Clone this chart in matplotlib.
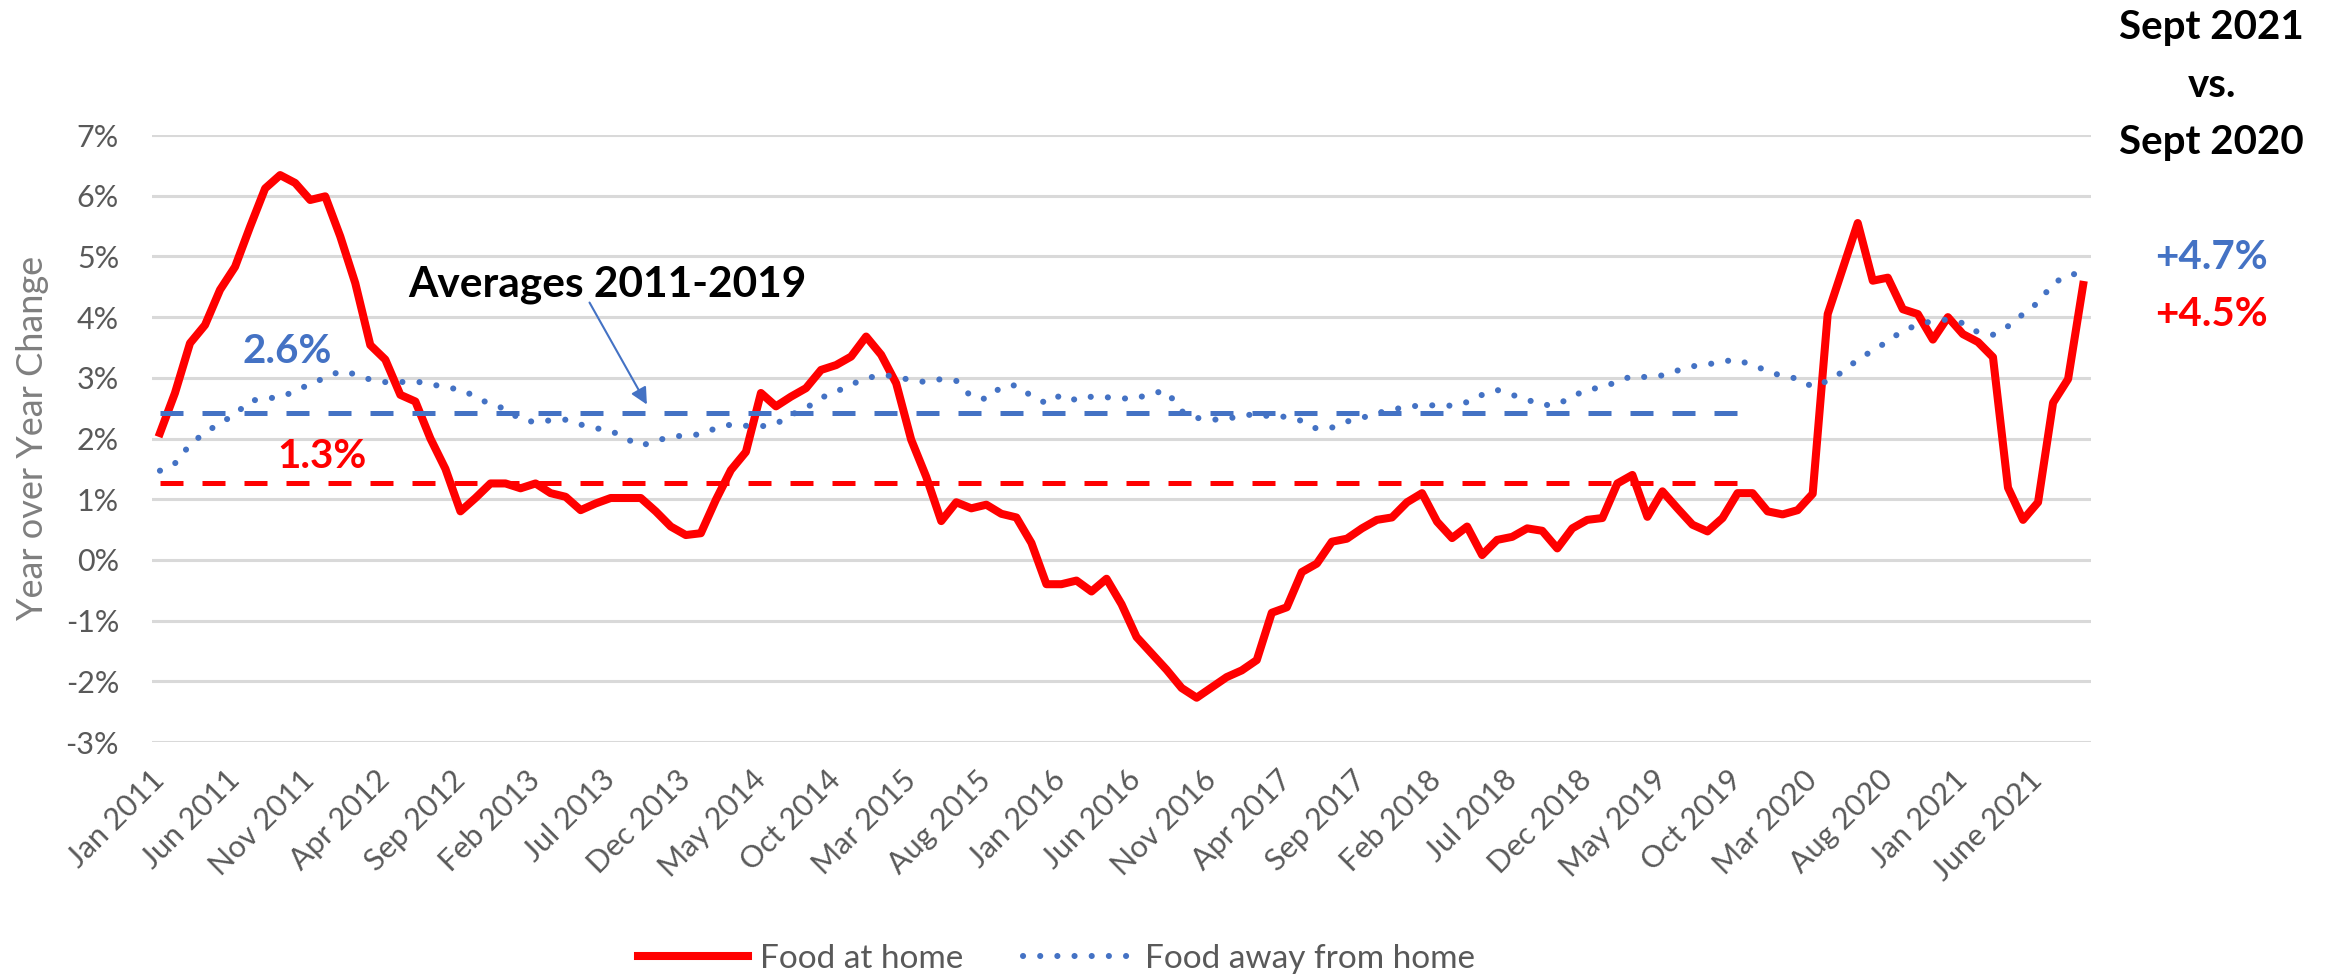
import matplotlib
matplotlib.use('Agg')
import matplotlib.pyplot as plt
import numpy as np

plt.rcParams['font.family'] = ['Lato', 'DejaVu Sans']

# year over year change (%), monthly Jan 2011 .. Sept 2021
food_at_home = [
    2.09, 2.75, 3.57, 3.87, 4.45, 4.83, 5.49, 6.12, 6.34, 6.21,
    5.93, 5.99, 5.33, 4.56, 3.54, 3.30, 2.72, 2.61, 2.00, 1.50,
    0.80, 1.02, 1.26, 1.26, 1.18, 1.26, 1.10, 1.04, 0.82, 0.93,
    1.02, 1.02, 1.02, 0.80, 0.55, 0.41, 0.44, 0.99, 1.48, 1.78,
    2.75, 2.53, 2.69, 2.83, 3.13, 3.21, 3.35, 3.68, 3.38, 2.91,
    1.98, 1.37, 0.64, 0.95, 0.85, 0.91, 0.76, 0.70, 0.28, -0.40,
    -0.40, -0.34, -0.52, -0.31, -0.73, -1.27, -1.54, -1.81, -2.11, -2.27,
    -2.10, -1.93, -1.82, -1.65, -0.87, -0.78, -0.20, -0.06, 0.30, 0.35,
    0.52, 0.66, 0.70, 0.95, 1.10, 0.63, 0.36, 0.55, 0.08, 0.33,
    0.38, 0.52, 0.48, 0.19, 0.52, 0.66, 0.69, 1.26, 1.40, 0.71,
    1.13, 0.85, 0.58, 0.47, 0.69, 1.10, 1.10, 0.80, 0.75, 0.82,
    1.09, 4.05, 4.80, 5.55, 4.60, 4.65, 4.13, 4.05, 3.63, 4.00,
    3.72, 3.59, 3.34, 1.19, 0.66, 0.95, 2.59, 2.98, 4.53,
]
food_away = [
    1.47, 1.59, 1.90, 2.10, 2.25, 2.40, 2.62, 2.66, 2.68, 2.78,
    2.90, 3.00, 3.11, 3.06, 2.97, 2.93, 2.93, 2.94, 2.90, 2.84,
    2.81, 2.69, 2.56, 2.49, 2.31, 2.27, 2.30, 2.31, 2.23, 2.17,
    2.13, 2.00, 1.88, 1.96, 2.03, 2.05, 2.07, 2.17, 2.23, 2.21,
    2.20, 2.24, 2.39, 2.50, 2.67, 2.77, 2.89, 2.99, 3.05, 3.02,
    2.96, 2.93, 2.98, 2.95, 2.69, 2.65, 2.85, 2.88, 2.70, 2.58,
    2.72, 2.63, 2.69, 2.68, 2.66, 2.66, 2.75, 2.78, 2.45, 2.34,
    2.31, 2.32, 2.38, 2.40, 2.36, 2.36, 2.29, 2.16, 2.18, 2.28,
    2.34, 2.42, 2.47, 2.53, 2.54, 2.55, 2.54, 2.60, 2.72, 2.80,
    2.72, 2.64, 2.55, 2.56, 2.69, 2.81, 2.84, 2.94, 3.03, 3.01,
    3.04, 3.12, 3.19, 3.22, 3.27, 3.30, 3.20, 3.12, 3.02, 2.99,
    2.85, 2.95, 3.10, 3.30, 3.45, 3.60, 3.78, 3.87, 3.94, 3.96,
    3.90, 3.75, 3.71, 3.85, 4.05, 4.24, 4.55, 4.70, 4.72,
]
tick_labels = ['Jan 2011', 'Jun 2011', 'Nov 2011', 'Apr 2012', 'Sep 2012', 'Feb 2013',
               'Jul 2013', 'Dec 2013', 'May 2014', 'Oct 2014', 'Mar 2015', 'Aug 2015',
               'Jan 2016', 'Jun 2016', 'Nov 2016', 'Apr 2017', 'Sep 2017', 'Feb 2018',
               'Jul 2018', 'Dec 2018', 'May 2019', 'Oct 2019', 'Mar 2020', 'Aug 2020',
               'Jan 2021', 'June 2021']
tick_step = 5
# 2011-2019 average lines (level as drawn, and the printed label)
avg_home = 1.26
avg_away = 2.42
avg_home_label = '1.3%'
avg_away_label = '2.6%'
avg_last_month = 106
latest_home = '+4.5%'
latest_away = '+4.7%'

RED = '#FF0000'
BLUE = '#4472C4'
GREY = '#595959'

months = np.arange(len(food_at_home))

fig = plt.figure(figsize=(23.38, 9.77), dpi=100)
ax = fig.add_axes([0.0652, 0.2405, 0.829, 0.6213])

line_home, = ax.plot(months, food_at_home, color=RED, lw=5.8, solid_joinstyle='round',
                     label='Food at home', zorder=3)
line_away, = ax.plot(months, food_away, color=BLUE, lw=4.4, linestyle=(0, (0.01, 2.8)),
                     dash_capstyle='round', label='Food away from home', zorder=4)

# dashed average lines
avg_x = [0, avg_last_month]
ax.plot(avg_x, [avg_away, avg_away], color=BLUE, lw=3.6, linestyle=(0, (4.6, 3.8)), zorder=5)
ax.plot(avg_x, [avg_home, avg_home], color=RED, lw=3.6, linestyle=(0, (4.6, 3.8)), zorder=5)

ax.set_xlim(-0.5, len(months) - 0.5)
ax.set_ylim(-3, 7)
ax.set_yticks(range(-3, 8))
ax.set_yticklabels([f'{v}%' for v in range(-3, 8)])
ax.set_xticks(months[::tick_step])
ax.set_xticklabels(tick_labels, rotation=45, ha='right', va='center', rotation_mode='anchor')
ax.tick_params(axis='y', length=0, pad=24, labelsize=22, labelcolor=GREY)
ax.tick_params(axis='x', length=0, pad=24, labelsize=22, labelcolor=GREY)
for s in ax.spines.values():
    s.set_visible(False)
ax.yaxis.grid(True, color='#D9D9D9', lw=2.2)
ax.set_axisbelow(True)

fig.text(0.014, 1 - 438 / 977, 'Year over Year Change', rotation=90, ha='center', va='center',
         fontsize=26, color='#7F7F7F')

# annotations
bold = dict(fontsize=29, fontweight='bold')
ax.text(5.5, 3.25, avg_away_label, color=BLUE, ha='left', va='baseline', **bold)
ax.text(7.8, 1.52, avg_home_label, color=RED, ha='left', va='baseline', **bold)
ax.text(16.5, 4.34, 'Averages 2011-2019', color='black', ha='left', va='baseline',
        fontsize=30.5, fontweight='bold')
ax.annotate('', xy=(32.5, 2.52), xytext=(28.5, 4.28),
            arrowprops=dict(arrowstyle='-|>', color=BLUE, lw=1.5, mutation_scale=25))

fig.text(0.946, 0.960, 'Sept 2021', ha='center', va='baseline', color='black', **bold)
fig.text(0.946, 0.901, 'vs.', ha='center', va='baseline', color='black', **bold)
fig.text(0.946, 0.842, 'Sept 2020', ha='center', va='baseline', color='black', **bold)
fig.text(0.946, 0.725, latest_away, ha='center', va='baseline', color=BLUE, **bold)
fig.text(0.946, 0.666, latest_home, ha='center', va='baseline', color=RED, **bold)

leg = fig.legend(handles=[line_home, line_away], loc='center', bbox_to_anchor=(0.452, 0.0185),
                 ncol=2, frameon=False, fontsize=24, handlelength=3.3, handletextpad=0.35,
                 columnspacing=1.8)
for t in leg.get_texts():
    t.set_color(GREY)

fig.savefig('out.png', dpi=100)
